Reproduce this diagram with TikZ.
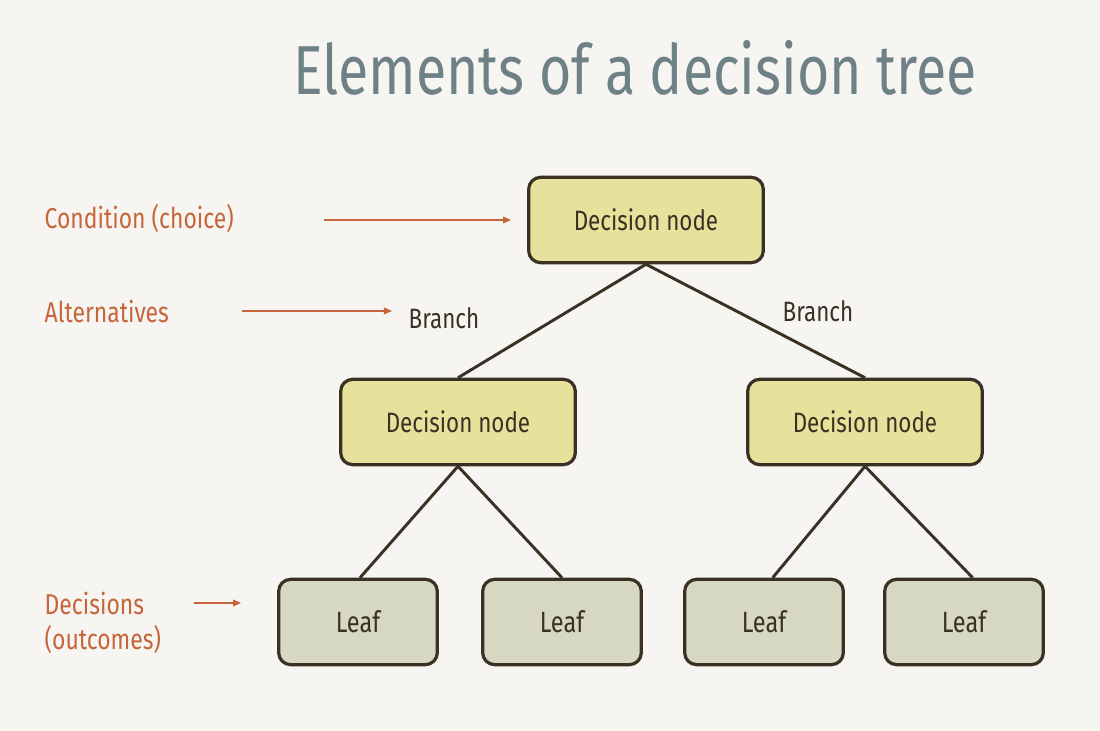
\documentclass[tikz,border=0pt]{standalone}
\usepackage{fontspec}
\setmainfont[FakeStretch=0.8]{Fira Sans}
\usetikzlibrary{arrows.meta}
\definecolor{bgpaper}{HTML}{F7F5F2}
\definecolor{titlegray}{HTML}{6E8187}
\definecolor{rust}{HTML}{C6653A}
\definecolor{decfill}{HTML}{E6E29C}
\definecolor{leaffill}{HTML}{D7D8C1}
\definecolor{edgebrown}{HTML}{3B3024}
\tikzset{
  decnode/.style={draw=edgebrown,line width=2.4pt,rounded corners=9pt,fill=decfill,
    minimum width=176pt,minimum height=64pt,font=\fontsize{21}{24}\selectfont,text=edgebrown},
  leafnode/.style={decnode,fill=leaffill,minimum width=119pt,font=\fontsize{22}{24}\selectfont},
  branch/.style={draw=edgebrown,line width=2.2pt},
  note/.style={text=rust,font=\fontsize{21.5}{26}\selectfont,align=left,anchor=west},
  pointer/.style={draw=rust,line width=1pt,-{Triangle[length=6pt,width=5pt]}}
}
\begin{document}
\begin{tikzpicture}[x=0.75pt,y=-0.75pt]
  \fill[bgpaper] (0,0) rectangle (1100,731);
  \useasboundingbox (0,0) rectangle (1100,731);
  \node[text=titlegray,font=\fontsize{52}{60}\selectfont] (title) at (635,68) {Elements of a decision tree};
  % tree
  \node[decnode] (root) at (646,220) {Decision node};
  \node[decnode] (left) at (458,422) {Decision node};
  \node[decnode] (right) at (865,422) {Decision node};
  \node[leafnode] (leafa) at (358,622) {Leaf};
  \node[leafnode] (leafb) at (562,622) {Leaf};
  \node[leafnode] (leafc) at (764,622) {Leaf};
  \node[leafnode] (leafd) at (964,622) {Leaf};
  \draw[branch] (root.south) -- (left.north);
  \draw[branch] (root.south) -- (right.north);
  \draw[branch] (left.south) -- ([xshift=1.5pt]leafa.north);
  \draw[branch] (left.south) -- (leafb.north);
  \draw[branch] (right.south) -- ([xshift=6.5pt]leafc.north);
  \draw[branch] (right.south) -- ([xshift=6.5pt]leafd.north);
  \node[text=edgebrown,font=\fontsize{21}{24}\selectfont] (brl) at (444,318) {Branch};
  \node[text=edgebrown,font=\fontsize{21}{24}\selectfont] (brr) at (818,311) {Branch};
  % notes on the left
  \node[note] (cond) at (40,218) {Condition (choice)};
  \node[note] (alt) at (40,311) {Alternatives};
  \node[note] (dec) at (40,623) {Decisions\\(outcomes)};
  \coordinate (condtail) at (324,220);
  \coordinate (alttail) at (242,311);
  \coordinate (dectail) at (194,603);
  \draw[pointer] (condtail) -- ([xshift=-12pt]root.west |- condtail);
  \draw[pointer] (alttail) -- ([xshift=-9pt]brl.west |- alttail);
  \draw[pointer] (dectail) -- ([xshift=-27pt]leafa.west |- dectail);
\end{tikzpicture}
\end{document}
